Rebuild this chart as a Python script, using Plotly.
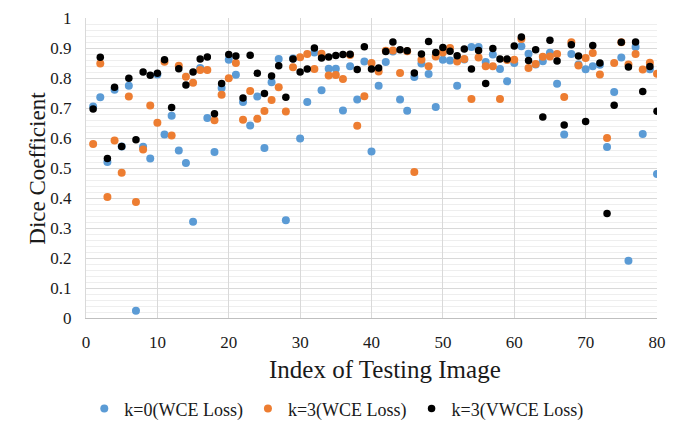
import plotly.graph_objects as go

index = list(range(1, 81))

k0_wce = [0.705, 0.736, 0.520, 0.761, 0.572, 0.774, 0.024, 0.571, 0.532, 0.812,
          0.612, 0.674, 0.558, 0.517, 0.321, 0.833, 0.667, 0.553, 0.767, 0.861,
          0.811, 0.720, 0.642, 0.738, 0.567, 0.786, 0.863, 0.326, 0.865, 0.598,
          0.720, 0.885, 0.759, 0.831, 0.831, 0.692, 0.839, 0.728, 0.855, 0.555,
          0.774, 0.853, 0.888, 0.728, 0.691, 0.803, 0.848, 0.813, 0.703, 0.861,
          0.858, 0.774, 0.862, 0.903, 0.903, 0.853, 0.878, 0.830, 0.789, 0.850,
          0.906, 0.881, 0.845, 0.856, 0.884, 0.781, 0.612, 0.880, 0.845, 0.829,
          0.839, 0.844, 0.570, 0.753, 0.868, 0.191, 0.903, 0.613, 0.829, 0.480]

k3_wce = [0.580, 0.848, 0.403, 0.592, 0.484, 0.738, 0.387, 0.562, 0.708, 0.651,
          0.854, 0.608, 0.841, 0.804, 0.784, 0.827, 0.827, 0.659, 0.744, 0.799,
          0.850, 0.661, 0.757, 0.664, 0.690, 0.727, 0.769, 0.688, 0.836, 0.869,
          0.880, 0.830, 0.881, 0.808, 0.810, 0.797, 0.877, 0.641, 0.739, 0.850,
          0.822, 0.891, 0.892, 0.817, 0.889, 0.487, 0.861, 0.839, 0.872, 0.885,
          0.900, 0.855, 0.863, 0.730, 0.868, 0.839, 0.839, 0.730, 0.860, 0.861,
          0.930, 0.833, 0.847, 0.871, 0.872, 0.880, 0.737, 0.919, 0.842, 0.867,
          0.883, 0.812, 0.600, 0.850, 0.919, 0.845, 0.880, 0.828, 0.851, 0.814]

k3_vwce = [0.697, 0.869, 0.532, 0.769, 0.572, 0.799, 0.594, 0.820, 0.809, 0.816,
           0.861, 0.702, 0.831, 0.777, 0.820, 0.863, 0.870, 0.681, 0.782, 0.878,
           0.873, 0.733, 0.876, 0.816, 0.748, 0.807, 0.841, 0.736, 0.863, 0.820,
           0.830, 0.900, 0.867, 0.870, 0.875, 0.878, 0.879, 0.828, 0.904, 0.830,
           0.833, 0.888, 0.920, 0.894, 0.891, 0.817, 0.880, 0.922, 0.885, 0.902,
           0.889, 0.874, 0.897, 0.830, 0.892, 0.782, 0.898, 0.863, 0.863, 0.907,
           0.937, 0.858, 0.894, 0.670, 0.926, 0.857, 0.643, 0.911, 0.873, 0.655,
           0.908, 0.850, 0.348, 0.709, 0.919, 0.837, 0.920, 0.755, 0.838, 0.689]

series_names = ["k=0(WCE Loss)", "k=3(WCE Loss)", "k=3(VWCE Loss)"]
series_colors = ["#5B9BD5", "#ED7D31", "#000000"]
series_values = [k0_wce, k3_wce, k3_vwce]
marker_sizes = [8, 8, 7.5]

x_ticks = [0, 10, 20, 30, 40, 50, 60, 70, 80]
y_ticks = [0, 0.1, 0.2, 0.3, 0.4, 0.5, 0.6, 0.7, 0.8, 0.9, 1]
y_tick_labels = ["0", "0.1", "0.2", "0.3", "0.4", "0.5", "0.6", "0.7", "0.8", "0.9", "1"]

x_title = "Index of Testing Image"
y_title = "Dice Coefficient"

FONT = "Liberation Serif, Times New Roman, serif"
TXT = "#1a1a1a"

fig = go.Figure()
for name, color, vals, ms in zip(series_names, series_colors, series_values, marker_sizes):
    fig.add_trace(go.Scatter(
        x=index, y=vals, mode="markers", name=name,
        marker=dict(color=color, size=ms, line=dict(width=0)),
    ))

fig.update_layout(
    width=677, height=434,
    margin=dict(l=78, r=28, t=10, b=124),
    paper_bgcolor="white", plot_bgcolor="white",
    font=dict(family=FONT, color=TXT),
    showlegend=True,
    legend=dict(
        orientation="h", x=-0.003, xanchor="left", y=-0.303, yanchor="middle",
        font=dict(family=FONT, size=18, color=TXT),
        itemsizing="trace", itemwidth=30, traceorder="normal",
        bgcolor="rgba(0,0,0,0)",
    ),
    xaxis=dict(
        range=[0, 80], tickvals=x_ticks, ticktext=[str(v) for v in x_ticks],
        showgrid=True, gridcolor="#d9d9d9", gridwidth=1,
        zeroline=False, showline=True, linecolor="#bfbfbf", linewidth=1,
        ticks="outside", ticklen=9, tickcolor="rgba(0,0,0,0)",
        tickfont=dict(family=FONT, size=17, color=TXT),
        automargin=False,
    ),
    yaxis=dict(
        range=[0, 1], tickvals=y_ticks, ticktext=y_tick_labels,
        showgrid=True, gridcolor="#d9d9d9", gridwidth=1,
        zeroline=False, showline=True, linecolor="#d9d9d9", linewidth=1,
        ticks="outside", ticklen=10, tickcolor="rgba(0,0,0,0)",
        tickfont=dict(family=FONT, size=17, color=TXT),
        minor=dict(dtick=0.02, showgrid=True, gridcolor="#eeeeee", gridwidth=1),
        automargin=False,
    ),
    annotations=[
        dict(text=x_title, xref="paper", yref="paper", x=0.5236, y=-0.1733,
             xanchor="center", yanchor="middle", showarrow=False,
             font=dict(family=FONT, size=25, color=TXT)),
        dict(text=y_title, xref="paper", yref="paper", x=-0.084, y=0.498,
             xanchor="center", yanchor="middle", showarrow=False, textangle=-90,
             font=dict(family=FONT, size=23, color=TXT)),
    ],
)

fig.write_html("out.html")
